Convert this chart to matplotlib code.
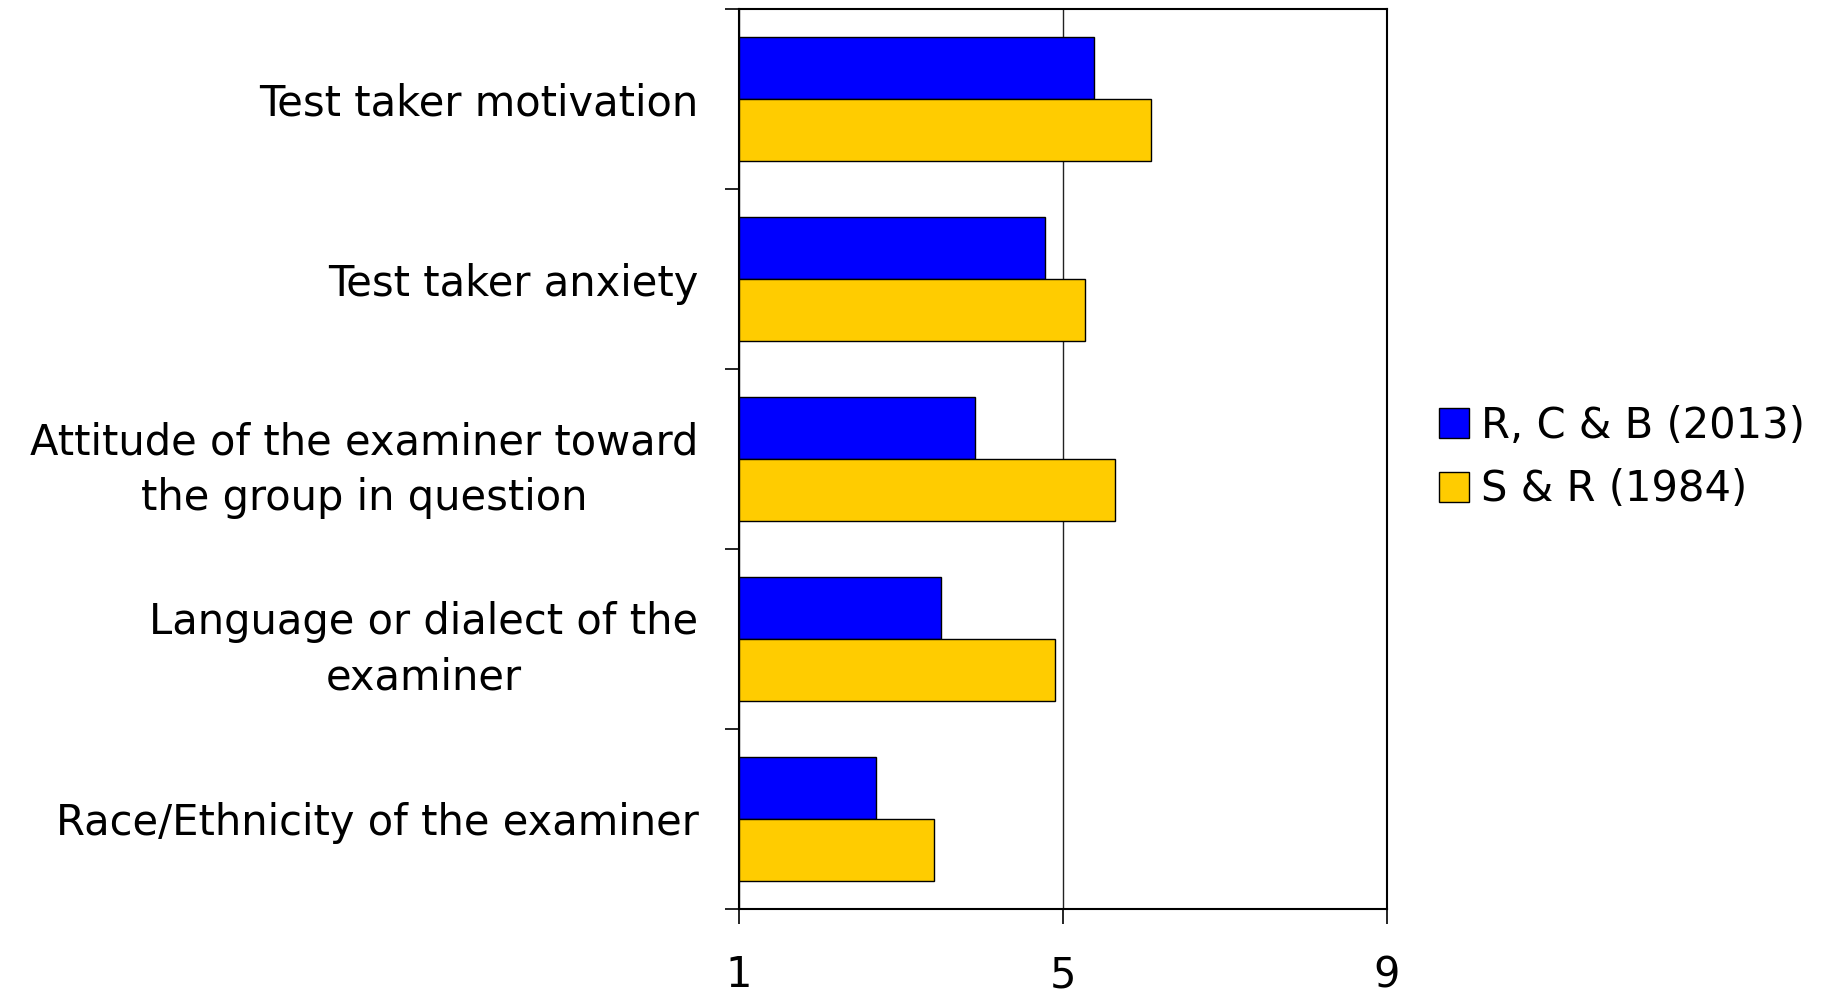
"""Horizontal bar chart comparing two studies on examiner / test taker factors."""

import matplotlib
matplotlib.use('Agg')
import matplotlib.pyplot as plt
from matplotlib import font_manager
import numpy as np

categories = [
    'Test taker motivation',
    'Test taker anxiety',
    'Attitude of the examiner toward\nthe group in question',
    'Language or dialect of the\nexaminer',
    'Race/Ethnicity of the examiner',
]
rcb_2013 = [5.39, 4.78, 3.92, 3.50, 2.69]
sr_1984 = [6.09, 5.28, 5.65, 4.91, 3.41]
series_labels = ['R, C & B (2013)', 'S & R (1984)']
x_ticks = [1, 5, 9]

BLUE = '#0000FF'
YELLOW = '#FFCC00'


def pick_font():
    # the original uses a narrow, tall face; use DejaVu Sans Condensed if present
    try:
        font_manager.findfont('DejaVu Sans Condensed', fallback_to_default=False)
        return ['DejaVu Sans Condensed', 'DejaVu Sans'], 33
    except ValueError:
        return ['DejaVu Sans'], 30


def main():
    family, font_size = pick_font()
    plt.rcParams['font.family'] = family

    fig = plt.figure(figsize=(18.27, 9.97), dpi=100)
    ax = fig.add_axes([0.4043, 0.0886, 0.3547, 0.9021])

    y = np.arange(len(categories))
    h = 0.344
    base = x_ticks[0]
    ax.barh(y - h / 2, np.array(rcb_2013) - base, height=h, left=base,
            color=BLUE, edgecolor='black', linewidth=1.0,
            label=series_labels[0], zorder=3)
    ax.barh(y + h / 2, np.array(sr_1984) - base, height=h, left=base,
            color=YELLOW, edgecolor='black', linewidth=1.0,
            label=series_labels[1], zorder=3)

    ax.set_xlim(x_ticks[0], x_ticks[-1])
    ax.set_ylim(len(categories) - 0.5, -0.5)

    ax.set_xticks(x_ticks)
    ax.set_xticklabels([str(t) for t in x_ticks], fontsize=font_size)
    ax.tick_params(axis='x', direction='out', length=11, width=1.2, pad=22)

    ax.set_yticks(y)
    ax.set_yticklabels(categories, fontsize=font_size, multialignment='center',
                       linespacing=1.4)
    ax.set_yticks(np.arange(len(categories) + 1) - 0.5, minor=True)
    ax.tick_params(axis='y', which='major', length=0, pad=29)
    ax.tick_params(axis='y', which='minor', direction='out', length=10, width=1.2)

    ax.xaxis.grid(True, color='#222222', linewidth=1.0, zorder=0)
    for spine in ax.spines.values():
        spine.set_color('black')
        spine.set_linewidth(1.5)

    fig.legend(loc='center left', bbox_to_anchor=(0.7876, 0.541),
               frameon=False, fontsize=font_size, handlelength=0.72,
               handleheight=0.72, handletextpad=0.3, labelspacing=0.52,
               borderpad=0, borderaxespad=0)

    fig.savefig('out.png', dpi=100)
    plt.close(fig)


if __name__ == '__main__':
    main()
